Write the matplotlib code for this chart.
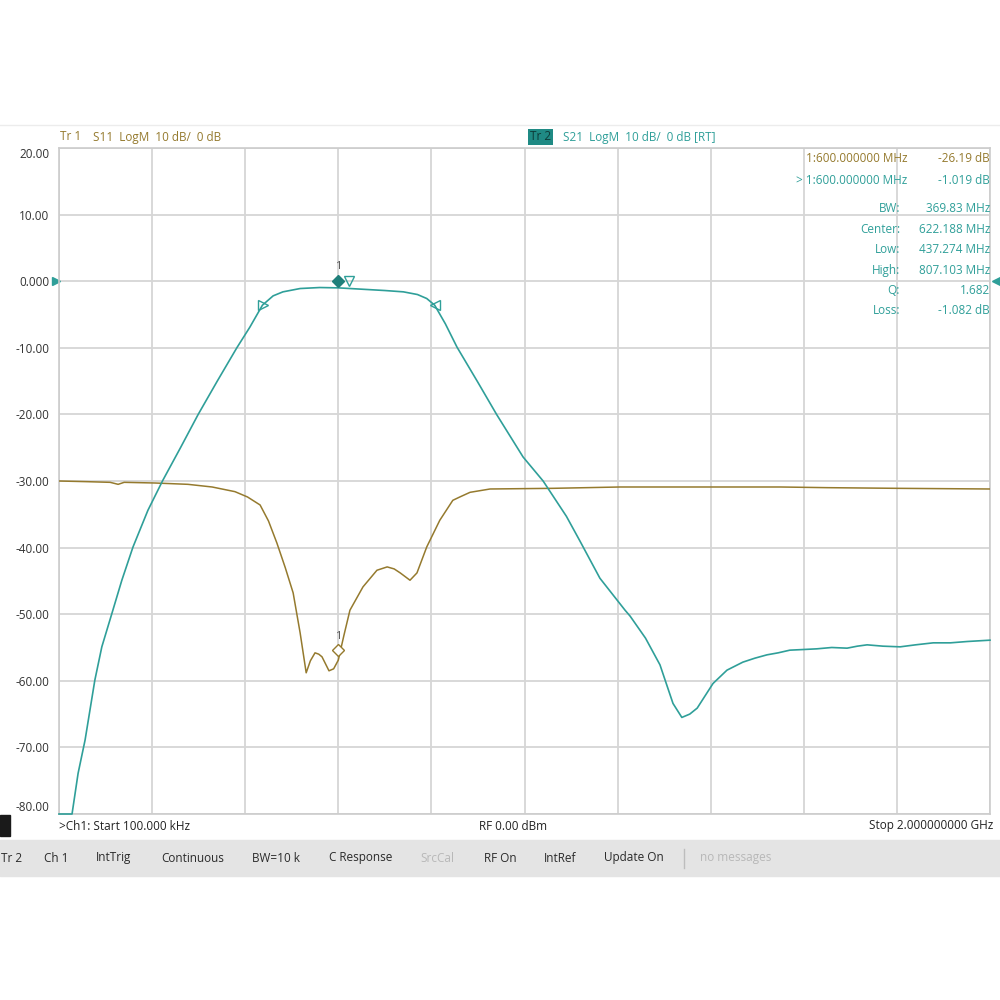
import numpy as np
import matplotlib
matplotlib.use("Agg")
import matplotlib.pyplot as plt
from matplotlib.transforms import ScaledTranslation

plt.rcParams['font.family'] = ['Open Sans', 'DejaVu Sans']

# S21 trace (MHz, dB)
s21_freq = [0, 28, 41, 56, 77, 92, 114, 135, 159, 191, 223, 261, 299, 340, 382, 410,
            437, 460, 481, 518, 560, 600, 650, 700, 740, 770, 790, 807, 830, 855, 900,
            940, 997, 1040, 1090, 1119, 1162, 1216, 1227, 1260, 1291, 1319, 1338, 1355,
            1371, 1405, 1435, 1469, 1495, 1521, 1545, 1570, 1600, 1628, 1660, 1693, 1715,
            1736, 1770, 1807, 1840, 1878, 1915, 1951, 2000]
s21_db = [-80.0, -80.0, -73.9, -68.9, -59.9, -54.9, -49.8, -44.9, -39.9, -34.4, -29.9,
          -25.0, -20.0, -15.0, -10.0, -6.9, -3.6, -2.2, -1.6, -1.1, -0.95, -1.0, -1.2,
          -1.4, -1.6, -2.0, -2.6, -3.6, -6.4, -9.9, -15.2, -20.0, -26.4, -30.0, -35.3,
          -39.0, -44.6, -49.4, -50.3, -53.6, -57.6, -63.4, -65.5, -65.0, -64.1, -60.4,
          -58.4, -57.2, -56.6, -56.1, -55.8, -55.4, -55.3, -55.2, -55.0, -55.1, -54.8,
          -54.6, -54.8, -54.9, -54.6, -54.3, -54.3, -54.1, -53.9]

# S11 trace (MHz, dB)
s11_freq = [0, 60, 110, 127, 140, 206, 277, 329, 378, 405, 432, 450, 468, 486, 503, 518,
            531, 540, 550, 558, 565, 580, 590, 600, 612, 625, 653, 683, 705, 720, 733,
            754, 769, 790, 818, 846, 861, 883, 926, 1061, 1205, 1400, 1550, 1650, 1800, 2000]
s11_db = [-30.0, -30.1, -30.2, -30.5, -30.2, -30.3, -30.5, -30.9, -31.6, -32.4, -33.6,
          -36.0, -39.3, -43.0, -46.8, -52.8, -58.8, -57.0, -55.8, -56.0, -56.4, -58.5,
          -58.2, -56.9, -53.2, -49.4, -45.9, -43.4, -42.9, -43.2, -43.8, -44.9, -43.8,
          -39.9, -35.9, -32.9, -32.4, -31.7, -31.2, -31.1, -30.9, -30.9, -30.9, -31.0,
          -31.1, -31.2]

y_ticks = [20, 10, 0, -10, -20, -30, -40, -50, -60, -70, -80]
y_labels = ['20.00', '10.00', '0.000', '-10.00', '-20.00', '-30.00', '-40.00',
            '-50.00', '-60.00', '-70.00', '-80.00']

marker_freq = 600
bw_low, bw_center, bw_high = 437.274, 622.188, 807.103

readout_labels = ['BW:', 'Center:', 'Low:', 'High:', 'Q:', 'Loss:']
readout_values = ['369.83 MHz', '622.188 MHz', '437.274 MHz', '807.103 MHz', '1.682', '-1.082 dB']

status_items = ['Tr 2', 'Ch 1', 'IntTrig', 'Continuous', 'BW=10 k', 'C Response',
                'SrcCal', 'RF On', 'IntRef', 'Update On', 'no messages']
status_x = [1, 44, 96, 161, 252, 329, 420, 484, 544, 604, 700]
status_dim = ['SrcCal', 'no messages']

c21 = '#2f9f99'
c11 = '#957a2e'
txt = '#333333'

fig = plt.figure(figsize=(10, 10), dpi=100)
fig.patch.set_facecolor('white')
ax = fig.add_axes([0.059, 0.186, 0.931, 0.666])

ax.set_xlim(0, 2000)
ax.set_ylim(-80, 20)
ax.set_xticks(np.linspace(0, 2000, 11))
ax.set_xticklabels([])
ax.set_yticks(y_ticks)
ax.set_yticklabels(y_labels, fontsize=8.5, color=txt)
ax.tick_params(length=0, pad=7)
for lab in ax.get_yticklabels():
    if lab.get_text() == '20.00':
        lab.set_va('top')
    if lab.get_text() == '-80.00':
        lab.set_va('bottom')
ax.grid(True, color='#d6d6d6', lw=1.3)
for s in ax.spines.values():
    s.set_color('#cccccc')
    s.set_linewidth(1.2)

ax.plot(s11_freq, s11_db, color=c11, lw=1.1, zorder=3)
ax.plot(s21_freq, s21_db, color=c21, lw=1.2, zorder=3, clip_on=False)

# markers
up = ax.transData + ScaledTranslation(0, 7 / 100, fig.dpi_scale_trans)
up11 = ax.transData + ScaledTranslation(0, 10 / 100, fig.dpi_scale_trans)
m21 = np.interp(marker_freq, s21_freq, s21_db)
m11 = np.interp(marker_freq, s11_freq, s11_db)
ax.plot([marker_freq], [m21], marker='D', ms=6, color='#1f7f7a', transform=up, clip_on=False, zorder=4)
ax.text(marker_freq, m21, '1', transform=ax.transData + ScaledTranslation(0, 21 / 100, fig.dpi_scale_trans),
        ha='center', va='center', fontsize=8, color='#555555')
ax.plot([bw_center], [np.interp(bw_center, s21_freq, s21_db)], marker='v', ms=7, mfc='none',
        mec=c21, mew=1, transform=up, zorder=4)
ax.plot([bw_low], [np.interp(bw_low, s21_freq, s21_db)], marker='>', ms=7, mfc='none', mec=c21, mew=1, zorder=4)
ax.plot([bw_high], [np.interp(bw_high, s21_freq, s21_db)], marker='<', ms=7, mfc='none', mec=c21, mew=1, zorder=4)
ax.plot([marker_freq], [m11], marker='D', ms=6, mfc='white', mec=c11, mew=1, transform=up11, zorder=4)
ax.text(marker_freq, m11, '1', transform=ax.transData + ScaledTranslation(0, 24 / 100, fig.dpi_scale_trans),
        ha='center', va='center', fontsize=8, color='#555555')

# reference level arrows
yt = ax.get_yaxis_transform()
ax.plot([-0.003], [0], marker='>', ms=6, color=c21, transform=yt, clip_on=False)
ax.plot([1.006], [0], marker='<', ms=6, color=c21, transform=yt, clip_on=False)


def fx(px):
    return px / 1000


def fy(py):
    return 1 - py / 1000


# header
fig.add_artist(plt.Line2D([0, 1], [fy(125), fy(125)], color='#ececec', lw=1))
fig.text(fx(60), fy(137), 'Tr 1', fontsize=8.5, color=c11, va='center')
fig.text(fx(93), fy(137), 'S11  LogM  10 dB/  0 dB', fontsize=8.5, color=c11, va='center')
fig.text(fx(530), fy(137), 'Tr 2', fontsize=8.5, color='#0d3b38', va='center',
         bbox=dict(boxstyle='square,pad=0.15', fc='#1f8a84', ec='none'))
fig.text(fx(563), fy(137), 'S21  LogM  10 dB/  0 dB [RT]', fontsize=8.5, color=c21, va='center')

# marker readouts
fig.text(fx(907), fy(158), '1:600.000000 MHz', fontsize=8.5, color=c11, ha='right', va='center')
fig.text(fx(990), fy(158), '-26.19 dB', fontsize=8.5, color=c11, ha='right', va='center')
fig.text(fx(907), fy(181), '> 1:600.000000 MHz', fontsize=8.5, color=c21, ha='right', va='center')
fig.text(fx(990), fy(181), '-1.019 dB', fontsize=8.5, color=c21, ha='right', va='center')
for i, (lab, val) in enumerate(zip(readout_labels, readout_values)):
    yy = fy(209 + i * 20.4)
    fig.text(fx(900), yy, lab, fontsize=8.5, color=c21, ha='right', va='center')
    fig.text(fx(990), yy, val, fontsize=8.5, color=c21, ha='right', va='center')

# footer
fig.text(fx(59), fy(826), '>Ch1: Start 100.000 kHz', fontsize=8.5, color='#222222', va='center')
fig.text(fx(513), fy(826), 'RF 0.00 dBm', fontsize=8.5, color='#222222', ha='center', va='center')
fig.text(fx(993), fy(826), 'Stop 2.000000000 GHz', fontsize=8.5, color='#222222', ha='right', va='center')
fig.add_artist(plt.Rectangle((0, fy(836)), fx(10), 21 / 1000, color='#1a1a1a'))

# status bar
fig.add_artist(plt.Rectangle((0, fy(876)), 1, 36 / 1000, color='#e4e4e4'))
for name, x in zip(status_items, status_x):
    col = '#b8b8b8' if name in status_dim else '#2a2a2a'
    fig.text(fx(x), fy(858), name, fontsize=8.5, color=col, va='center')
fig.add_artist(plt.Line2D([fx(684), fx(684)], [fy(849), fy(868)], color='#bdbdbd', lw=1))

fig.savefig('out.png', dpi=100, facecolor='white')
